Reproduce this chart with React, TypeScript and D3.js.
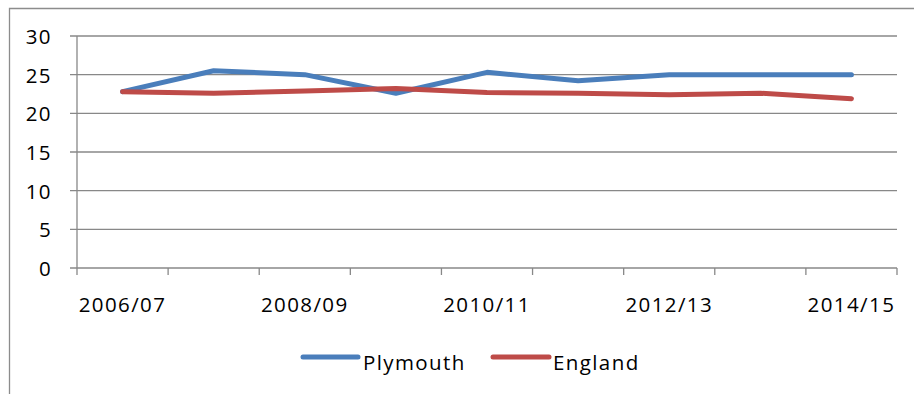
import React from "react";
import * as d3 from "d3";

const categories = ["2006/07","2007/08","2008/09","2009/10","2010/11","2011/12","2012/13","2013/14","2014/15"];
const plymouth = [22.8, 25.5, 25.0, 22.6, 25.3, 24.2, 25.0, 25.0, 25.0];
const england = [22.8, 22.6, 22.9, 23.2, 22.7, 22.6, 22.4, 22.6, 21.9];
const yTicks = [0, 5, 10, 15, 20, 25, 30];
const seriesNames = ["Plymouth", "England"];
const seriesColors = ["#4a7ebb", "#be4b48"];

const W = 914, H = 394;
const left = 77, right = 897, top = 36, bottom = 268;
const FONT = "'Open Sans', sans-serif";
const FS = 20.5;
const LS = 1.4;
const grid = "#888888";

export default function App() {
  const x = d3.scaleBand<string>().domain(categories).range([left, right]).paddingInner(0).paddingOuter(0);
  const y = d3.scaleLinear().domain([0, 30]).range([bottom, top]);
  const cx = (c: string) => (x(c) as number) + x.bandwidth() / 2;
  const line = d3.line<number>().x((_, i) => cx(categories[i])).y((v) => y(v));
  const series = [plymouth, england];
  const boundaries = d3.range(categories.length + 1).map((i) => left + i * x.bandwidth());

  const legendItems = [
    { name: seriesNames[0], color: seriesColors[0], x1: 303, x2: 358, tx: 363 },
    { name: seriesNames[1], color: seriesColors[1], x1: 493, x2: 549, tx: 553 },
  ];

  return (
    <svg width={W} height={H} style={{ position: "absolute", left: 0, top: 0, background: "#fff" }}>
      <rect x={0} y={0} width={W} height={H} fill="#fff" />
      {/* outer chart border */}
      <path d={`M9.5,${H + 5} L9.5,8.5 L${W + 5},8.5`} fill="none" stroke="#8c8c8c" strokeWidth={1.3} />
      {/* gridlines */}
      {yTicks.map((t) => (
        <line key={t} x1={left - 7} x2={right} y1={y(t)} y2={y(t)} stroke={grid} strokeWidth={1.3} />
      ))}
      {/* y axis */}
      <line x1={left} x2={left} y1={top} y2={bottom} stroke={grid} strokeWidth={1.3} />
      {/* x ticks */}
      {boundaries.map((b, i) => (
        <line key={i} x1={b} x2={b} y1={bottom} y2={bottom + 7} stroke={grid} strokeWidth={1.3} />
      ))}
      {/* y labels */}
      {yTicks.map((t) => (
        <text key={t} x={52} y={y(t) + 8} textAnchor="end" fontFamily={FONT} fontSize={FS} letterSpacing={LS} fill="#000">
          {t}
        </text>
      ))}
      {/* x labels */}
      {categories.map((c, i) =>
        i % 2 === 0 ? (
          <text key={c} x={cx(c)} y={312} textAnchor="middle" fontFamily={FONT} fontSize={FS} letterSpacing={LS} fill="#000">
            {c}
          </text>
        ) : null
      )}
      {/* lines */}
      {series.map((s, k) => (
        <path key={k} d={line(s) || ""} fill="none" stroke={seriesColors[k]} strokeWidth={5} strokeLinejoin="round" strokeLinecap="round" />
      ))}
      {/* legend */}
      {legendItems.map((l) => (
        <g key={l.name}>
          <line x1={l.x1} x2={l.x2} y1={357} y2={357} stroke={l.color} strokeWidth={5} strokeLinecap="round" />
          <text x={l.tx} y={370} fontFamily={FONT} fontSize={FS} letterSpacing={LS} fill="#000">
            {l.name}
          </text>
        </g>
      ))}
    </svg>
  );
}
